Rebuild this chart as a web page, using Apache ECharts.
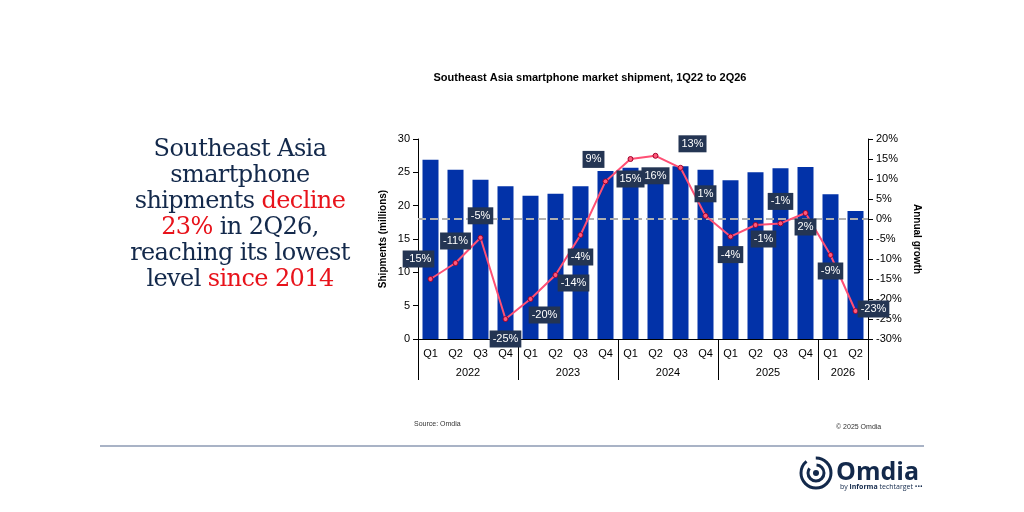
<!DOCTYPE html>
<html><head><meta charset="utf-8">
<script src="https://cdn.jsdelivr.net/npm/echarts@6/dist/echarts.min.js"></script>
<style>
body{margin:0;width:1024px;height:512px;background:#fff;position:relative;overflow:hidden;font-family:"Liberation Sans",Arial,sans-serif}
#c{position:absolute;left:0;top:0;width:1024px;height:512px}
#head{position:absolute;left:100px;top:135px;width:280px;text-align:center;font-family:"DejaVu Serif",serif;font-size:24px;line-height:26px;color:#13294b;letter-spacing:-0.6px}
#head .r{color:#e8131b}
#rule{position:absolute;left:100px;top:445px;width:824px;height:2px;background:#a9b3c6}
#logo{position:absolute;left:798px;top:455px;}
#logo .o{font-family:"Open Sans",sans-serif;font-weight:bold;font-size:25px;color:#13294b;position:absolute;left:38px;top:-2px}
#logo .b{font-family:"Open Sans",sans-serif;font-size:7px;color:#13294b;position:absolute;left:42px;top:27px;white-space:nowrap}
</style></head><body>
<div id="c"></div>
<div id="head">Southeast Asia<br>smartphone<br>shipments <span class="r">decline</span><br><span class="r">23%</span> in 2Q26,<br>reaching its lowest<br>level <span class="r">since 2014</span></div>
<div id="rule"></div>
<div id="logo">
<svg width="36" height="36" viewBox="0 0 36 36"><circle cx="18" cy="18" r="15" fill="none" stroke="#13294b" stroke-width="3" stroke-dasharray="60 10"/><circle cx="18" cy="18" r="8" fill="none" stroke="#13294b" stroke-width="3" stroke-dasharray="30 8"/><circle cx="18" cy="18" r="3" fill="#13294b"/></svg>
<span class="o">Omdia</span><span class="b">by <b>informa</b> techtarget •••</span></div>
<script>
const quarters=["Q1","Q2","Q3","Q4","Q1","Q2","Q3","Q4","Q1","Q2","Q3","Q4","Q1","Q2","Q3","Q4","Q1","Q2"];
const years=["2022","2023","2024","2025","2026"];
const shipments=[26.9,25.4,23.9,22.9,21.5,21.8,22.9,25.2,25.7,25.4,25.9,25.4,23.8,25.0,25.6,25.8,21.7,19.2];
const growth=[-15,-11,-4.7,-25,-20,-14,-4,9.4,15,15.8,12.8,0.8,-4.4,-1.5,-1.1,1.5,-9,-23];
const growthLabels=["-15%","-11%","-5%","-25%","-20%","-14%","-4%","9%","15%","16%","13%","1%","-4%","-1%","-1%","2%","-9%","-23%"];
const labelPos=[[-12,-20],[0,-22],[0,-22],[0,20],[14,16],[18,8],[0,22],[-12,-22],[0,20],[0,20],[12,-24],[0,-22],[0,18],[8,14],[0,-22],[0,14],[0,16],[18,-2]];
const yearCenters=[2,6,10,14,17];
const chart=echarts.init(document.getElementById('c'));
chart.setOption({
 animation:false,
 title:{text:'Southeast Asia smartphone market shipment, 1Q22 to 2Q26',left:585,top:67,textAlign:'center',textStyle:{fontSize:11,fontWeight:'bold',color:'#000',fontFamily:'Liberation Sans'}},
 graphic:[
  {type:'text',left:414,top:421,style:{text:'Source: Omdia',fontSize:7,fill:'#333'}},
  {type:'text',left:836,top:424,style:{text:'© 2025 Omdia',fontSize:7,fill:'#333'}}
 ],
 grid:{left:418,right:156,top:139,bottom:173},
 xAxis:[
  {type:'category',data:quarters,axisLine:{lineStyle:{color:'#000'}},axisTick:{show:false},axisLabel:{color:'#000',fontSize:11,margin:9}},
  {type:'value',min:0,max:18,position:'bottom',axisLine:{show:false,onZero:false},splitLine:{show:false},
   axisTick:{show:true,customValues:[0,4,8,12,16,18],length:41,lineStyle:{color:'#000'}},
   axisLabel:{customValues:yearCenters,margin:28,fontSize:11,color:'#000',formatter:v=>years[yearCenters.indexOf(v)]}}
 ],
 yAxis:[
  {type:'value',min:0,max:30,interval:5,name:'Shipments (millions)',nameLocation:'middle',nameGap:30,nameTextStyle:{fontWeight:'bold',fontSize:10,color:'#000'},
   axisLine:{show:true,lineStyle:{color:'#000'}},axisTick:{show:true,lineStyle:{color:'#000'}},splitLine:{show:false},axisLabel:{color:'#000',fontSize:11}},
  {type:'value',min:-30,max:20,interval:5,name:'Annual growth',nameLocation:'middle',nameGap:44,nameRotate:-90,nameTextStyle:{fontWeight:'bold',fontSize:10,color:'#000'},
   axisLine:{show:true,lineStyle:{color:'#000'}},axisTick:{show:true,lineStyle:{color:'#000'}},splitLine:{show:false},axisLabel:{color:'#000',fontSize:11,formatter:'{value}%'}}
 ],
 series:[
  {type:'bar',data:shipments,barWidth:'64%',itemStyle:{color:'#0232a8'},z:1,
   markLine:{silent:true,symbol:'none',label:{show:false},lineStyle:{color:'#b0b0b0',type:'dashed',width:2},data:[{yAxis:18}]}},
  {type:'line',yAxisIndex:1,z:5,symbol:'circle',symbolSize:5,itemStyle:{color:'#ff5a7a',borderColor:'#a0002a',borderWidth:1},lineStyle:{color:'#ff4f74',width:2},
   data:growth.map((v,i)=>({value:v,label:{show:true,offset:labelPos[i],position:'inside',formatter:growthLabels[i],color:'#fff',fontSize:11,backgroundColor:'#243553',padding:[3,3]}}))}
 ]
});
</script></body></html>
